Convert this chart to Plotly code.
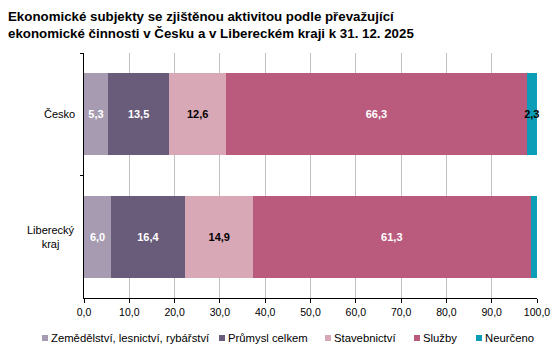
import plotly.graph_objects as go

categories = ["Česko", "Liberecký<br>kraj"]
series_names = ["Zemědělství, lesnictví, rybářství", "Průmysl celkem", "Stavebnictví", "Služby", "Neurčeno"]
agri = [5.3, 6.0]
industry = [13.5, 16.4]
construction = [12.6, 14.9]
services = [66.3, 61.3]
undetermined = [2.3, 1.5]
x_ticks = [0, 10, 20, 30, 40, 50, 60, 70, 80, 90, 100]

colors = ["#A69BB1", "#695B7A", "#D9A8B6", "#BA5B7E", "#0C9DB7"]
text_colors = ["white", "white", "black", "white", "black"]
values = [agri, industry, construction, services, undetermined]

FONT = "Liberation Sans, Arial, sans-serif"
W, H = 558, 347
ML, MR, MT, MB = 84, 21, 53, 49
PW, PH = W - ML - MR, H - MT - MB


def px2x(px):
    return (px - ML) / PW


def px2y(py):
    return 1 - (py - MT) / PH


fig = go.Figure()
for name, vals, col, tcol in zip(series_names, values, colors, text_colors):
    fig.add_trace(go.Bar(
        y=categories, x=vals, name=name, orientation="h",
        marker=dict(color=col, line=dict(width=0)),
        text=[f"{v:.1f}".replace(".", ",") for v in vals],
        textposition="inside", insidetextanchor="middle", textangle=0,
        textfont=dict(color=tcol, size=11, family=FONT, weight="bold"),
        constraintext="none", cliponaxis=False,
        showlegend=False, hoverinfo="skip",
    ))

# manual legend (small squares + text), one row
legend_marker_px = [42, 219, 325, 414, 476]
legend_y_px = 338
shapes = []
annotations = []
for name, col, mx in zip(series_names, colors, legend_marker_px):
    shapes.append(dict(
        type="rect", xref="paper", yref="paper",
        x0=px2x(mx), x1=px2x(mx + 6), y0=px2y(legend_y_px - 3), y1=px2y(legend_y_px + 3),
        fillcolor=col, line=dict(width=0),
    ))
    annotations.append(dict(
        text=name, xref="paper", yref="paper", x=px2x(mx + 7), y=px2y(legend_y_px),
        xanchor="left", yanchor="middle", showarrow=False,
        font=dict(size=11.3, family=FONT, color="black"),
    ))

# category labels, lines centred on each other
for cat in categories:
    annotations.append(dict(
        text=cat, xref="paper", yref="y", x=px2x(77), y=cat,
        xanchor="right", yanchor="middle", align="center", showarrow=False,
        font=dict(size=11, family=FONT, color="black"),
    ))

annotations.append(dict(
    text="<b>Ekonomické subjekty se zjištěnou aktivitou podle převažující<br>ekonomické činnosti v Česku a v Libereckém kraji k 31. 12. 2025</b>",
    xref="paper", yref="paper", x=px2x(6), y=px2y(7),
    xanchor="left", yanchor="top", align="left", showarrow=False,
    font=dict(size=13.3, family=FONT, color="black"),
))

fig.update_layout(
    barmode="stack",
    bargap=0.33,
    width=W, height=H,
    margin=dict(l=ML, r=MR, t=MT, b=MB, autoexpand=False),
    paper_bgcolor="white", plot_bgcolor="white",
    separators=",.",
    uniformtext=dict(minsize=11, mode="show"),
    font=dict(family=FONT, size=11, color="black"),
    showlegend=False,
    shapes=shapes,
    annotations=annotations,
)
fig.update_xaxes(
    range=[0, 100], tickvals=x_ticks, tickformat=".1f",
    showgrid=True, gridcolor="#C0C0C0", gridwidth=1,
    showline=True, linecolor="black", linewidth=1,
    ticks="outside", ticklen=4, tickcolor="black",
    zeroline=False, tickfont=dict(size=10.5),
    fixedrange=True, automargin=False,
)
fig.update_yaxes(
    autorange="reversed", showline=True, linecolor="black", linewidth=1,
    ticks="outside", ticklen=3, tickcolor="black", tickson="boundaries",
    showgrid=False, showticklabels=False, automargin=False,
)

fig.write_html("out.html")
